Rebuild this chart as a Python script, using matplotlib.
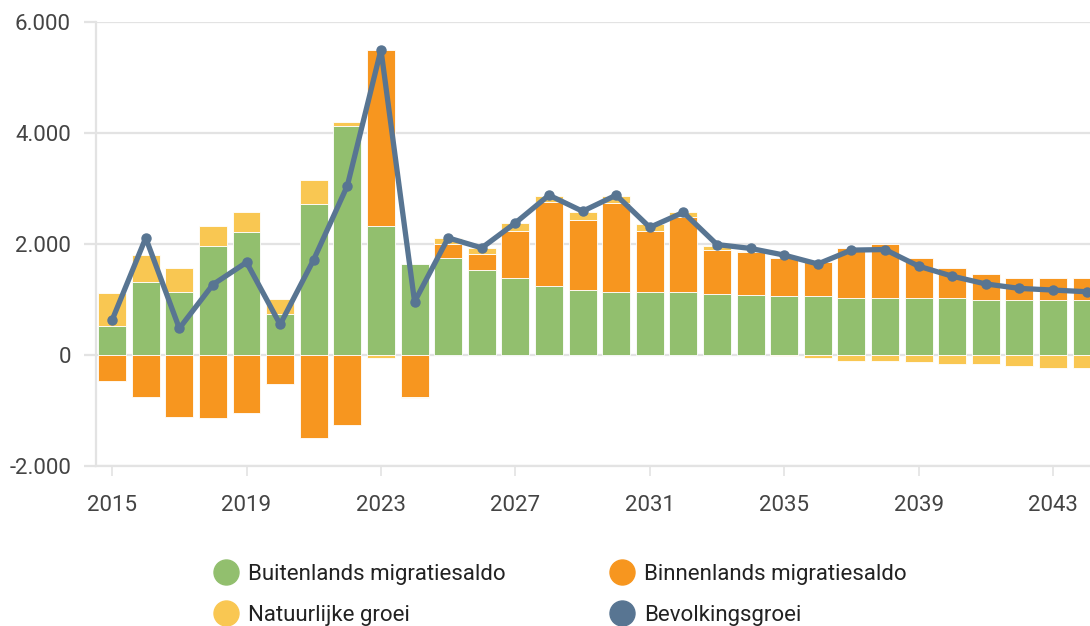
import matplotlib.pyplot as plt
import numpy as np
from matplotlib.lines import Line2D
from matplotlib.ticker import FuncFormatter

plt.rcParams['font.family'] = ['Roboto', 'DejaVu Sans']

years = np.arange(2015, 2045)

# migration / growth components per year
buitenlands = [520, 1310, 1130, 1960, 2210, 730, 2720, 4130, 2320, 1640,
               1750, 1530, 1390, 1240, 1170, 1130, 1130, 1130, 1100, 1090,
               1060, 1060, 1030, 1030, 1030, 1030, 990, 990, 990, 990]
binnenlands = [-460, -750, -1110, -1140, -1040, -530, -1500, -1260, 3180, -750,
               250, 290, 840, 1510, 1260, 1600, 1100, 1350, 800, 770,
               690, 610, 890, 970, 710, 530, 470, 390, 390, 390]
natuurlijk = [600, 500, 430, 360, 370, 280, 430, 60, -60, -20,
              100, 100, 140, 110, 140, 140, 130, 90, 55, 20,
              -10, -60, -100, -100, -130, -170, -170, -200, -240, -240]
bevolkingsgroei = [630, 2110, 480, 1270, 1670, 550, 1720, 3050, 5500, 960,
                   2110, 1930, 2380, 2880, 2590, 2880, 2300, 2570, 1990, 1920,
                   1800, 1640, 1890, 1900, 1600, 1420, 1280, 1200, 1170, 1140]

xticks = [2015, 2019, 2023, 2027, 2031, 2035, 2039, 2043]
yticks = [-2000, 0, 2000, 4000, 6000]

c_green = '#92bf6e'
c_orange = '#f7961f'
c_yellow = '#f9c752'
c_line = '#587592'
c_grid = '#e3e3e3'

fig = plt.figure(figsize=(10.9, 6.26), dpi=100)
ax = fig.add_axes([96 / 1090, 1 - 466 / 626, 1 - 96 / 1090, (466 - 22) / 626])

pos_bottom = np.zeros(len(years))
neg_bottom = np.zeros(len(years))
for vals, col in [(buitenlands, c_green), (binnenlands, c_orange), (natuurlijk, c_yellow)]:
    v = np.array(vals, dtype=float)
    bottoms = np.where(v >= 0, pos_bottom, neg_bottom)
    ax.bar(years, v, bottom=bottoms, width=0.83, color=col,
           edgecolor='white', linewidth=0.6, zorder=2)
    pos_bottom += np.where(v >= 0, v, 0)
    neg_bottom += np.where(v < 0, v, 0)

ax.plot(years, bevolkingsgroei, color=c_line, lw=3.8, marker='o', ms=6.5,
        zorder=4, clip_on=False)

ax.set_xlim(2014.52, 2044.1)
ax.set_ylim(-2000, 6000)
ax.set_xticks(xticks)
ax.set_yticks(yticks)
ax.yaxis.set_major_formatter(FuncFormatter(lambda v, p: f"{int(v):,}".replace(',', '.')))

ax.grid(axis='y', color=c_grid, lw=1.6)
ax.set_axisbelow(True)
for s in ['top', 'right']:
    ax.spines[s].set_visible(False)
for s in ['left', 'bottom']:
    ax.spines[s].set_color(c_grid)
    ax.spines[s].set_linewidth(1.6)

ax.tick_params(axis='x', length=7, width=1.2, color=c_grid, pad=14,
               labelsize=16, labelcolor='#444444')
ax.tick_params(axis='y', length=9, width=1.6, color=c_grid, pad=9,
               labelsize=16, labelcolor='#444444')

handles = [
    Line2D([], [], ls='none', marker='o', ms=18, color=c_green),
    Line2D([], [], ls='none', marker='o', ms=18, color=c_yellow),
    Line2D([], [], ls='none', marker='o', ms=18, color=c_orange),
    Line2D([], [], ls='none', marker='o', ms=18, color=c_line),
]
labels = ['Buitenlands migratiesaldo', 'Natuurlijke groei',
          'Binnenlands migratiesaldo', 'Bevolkingsgroei']
fig.legend(handles, labels, ncol=2, loc='upper left',
           bbox_to_anchor=(204 / 1090, 1 - 553 / 626), frameon=False,
           fontsize=16, handlelength=1.0, handletextpad=0.5,
           columnspacing=4.7, labelspacing=0.88, borderpad=0,
           labelcolor='#222222')

fig.savefig('out.png', dpi=100)
